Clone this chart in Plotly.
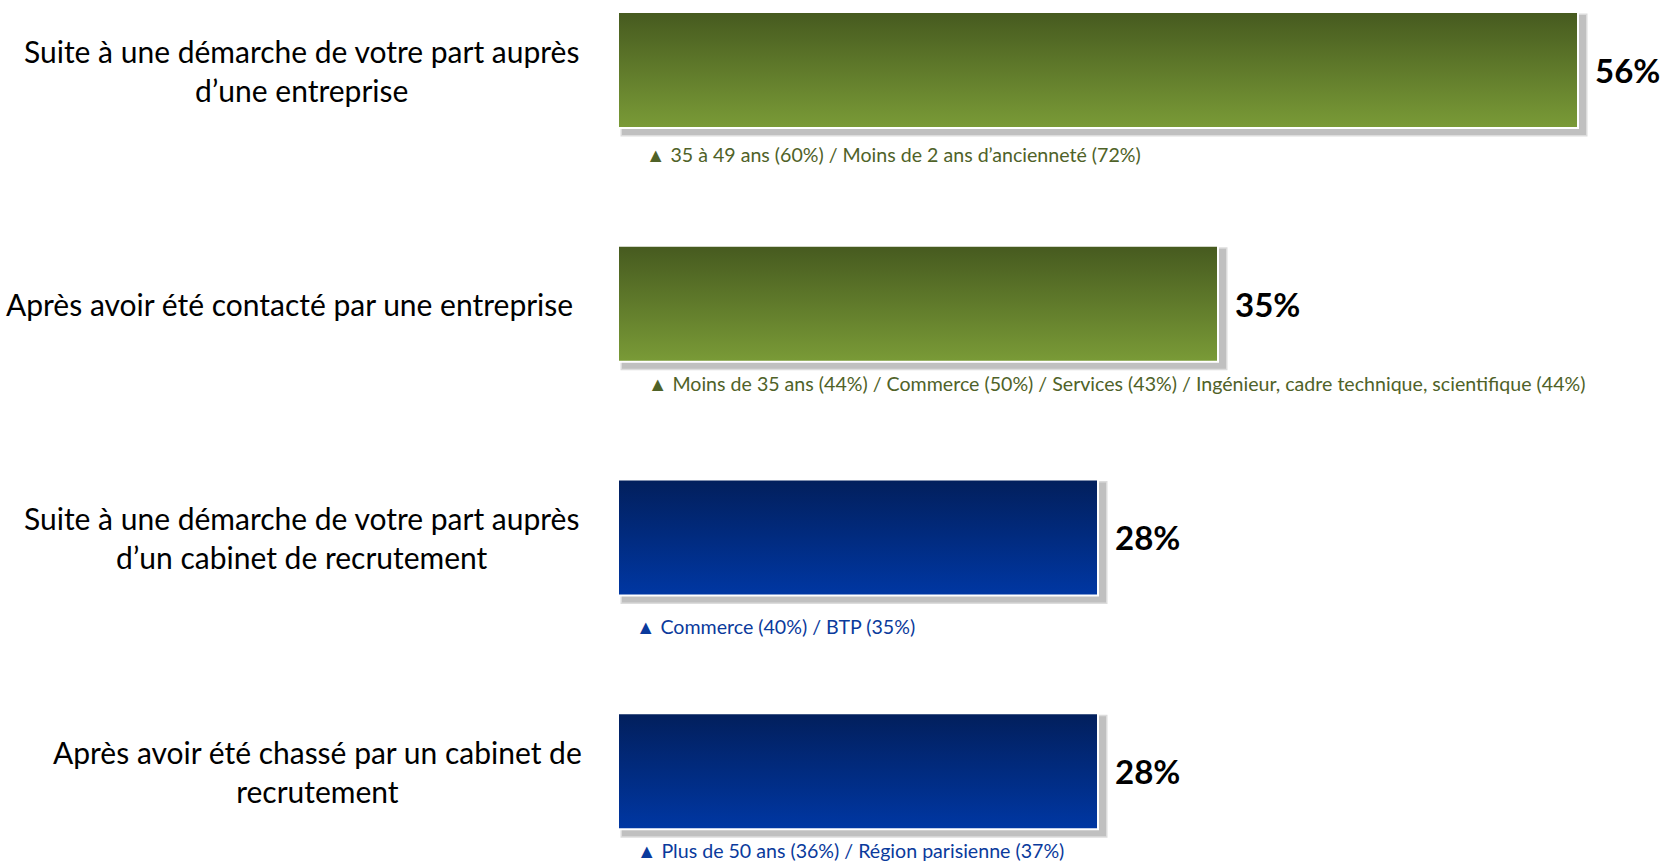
import plotly.graph_objects as go

categories = [
    "Suite à une démarche de votre part auprès<br>d’une entreprise",
    "Après avoir été contacté par une entreprise",
    "Suite à une démarche de votre part auprès<br>d’un cabinet de recrutement",
    "Après avoir été chassé par un cabinet de<br>recrutement",
]
values = [56, 35, 28, 28]
details = [
    "35 à 49 ans (60%) / Moins de 2 ans d’ancienneté (72%)",
    "Moins de 35 ans (44%) / Commerce (50%) / Services (43%) / Ingénieur, cadre technique, scientifique (44%)",
    "Commerce (40%) / BTP (35%)",
    "Plus de 50 ans (36%) / Région parisienne (37%)",
]
groups = ["entreprise", "entreprise", "cabinet", "cabinet"]

# ---- styling ----
W, H = 1663, 863
L = 618
PX_PER_PCT = 960 / 56
XMAX = (W - L) / PX_PER_PCT
Y0, Y1 = -0.3, 3.393
PX_PER_UNIT = H / (Y1 - Y0)
px_x = 1 / PX_PER_PCT
px_y = 1 / PX_PER_UNIT
HALF = 58 * px_y

grad = {
    "entreprise": [[0, "#7a9b37"], [1, "#465a1f"]],
    "cabinet": [[0, "#0037a3"], [1, "#021f5c"]],
}
text_col = {"entreprise": "#4f6228", "cabinet": "#0a3a9c"}
label_cx = [301, 289, 301, 317]           # px centre of category labels
detail_dx = [26, 28, 16, 17]               # px from bar start
detail_dy = [26, 22, 31, 21]               # px below bar bottom
FONT = "Lato"

fig = go.Figure()

for i, (v, g) in enumerate(zip(values, groups)):
    top, bot = i - HALF, i + HALF
    # shadow (two layers for softness)
    for grow, col in [(1.5, "#dcdcdc"), (0, "#c0c0c0")]:
        x0 = 4 * px_x - grow * px_x
        x1 = v + (8 + grow) * px_x
        y0 = top + (3 - grow) * px_y
        y1 = bot + (7 + grow) * px_y
        fig.add_trace(go.Scatter(
            x=[x0, x1, x1, x0, x0], y=[y0, y0, y1, y1, y0],
            mode="lines", fill="toself", fillcolor=col,
            line=dict(width=0, color=col), hoverinfo="skip", showlegend=False))
    # bar with vertical gradient
    fig.add_trace(go.Scatter(
        x=[0, v, v, 0, 0], y=[top, top, bot, bot, top],
        mode="lines", fill="toself",
        fillgradient=dict(type="vertical", colorscale=grad[g]),
        line=dict(width=2, color="white"),
        hoverinfo="skip", showlegend=False))
    # value label
    fig.add_annotation(x=v, y=i, xref="x", yref="y", text=f"<b>{v}%</b>",
                       showarrow=False, xanchor="left", yanchor="middle",
                       xshift=15, font=dict(family=FONT, size=33, color="black"))
    # detail text
    fig.add_annotation(x=0, y=bot, xref="x", yref="y", text="▲ " + details[i],
                       showarrow=False, xanchor="left", yanchor="middle",
                       xshift=detail_dx[i], yshift=-detail_dy[i],
                       font=dict(family=FONT, size=19.6, color=text_col[g]))
    # category label
    fig.add_annotation(x=(label_cx[i] - L) / (W - L), y=i, xref="paper", yref="y",
                       text=categories[i], showarrow=False, xanchor="center",
                       yanchor="middle", align="center",
                       font=dict(family=FONT, size=30, color="black"))

fig.update_layout(
    width=W, height=H,
    margin=dict(l=L, r=0, t=0, b=0),
    plot_bgcolor="white", paper_bgcolor="white",
    xaxis=dict(range=[0, XMAX], visible=False, fixedrange=True),
    yaxis=dict(range=[Y1, Y0], visible=False, fixedrange=True),
    showlegend=False,
)

fig.write_html("out.html", config={"displayModeBar": False},
               post_script="document.body.style.margin='0';")
